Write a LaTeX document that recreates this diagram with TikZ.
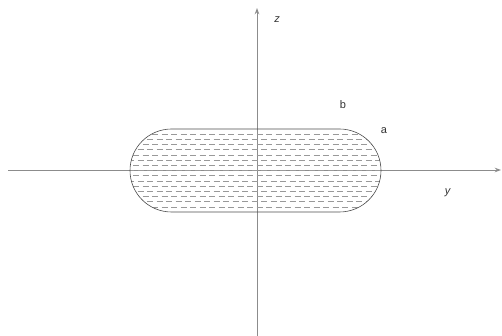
\documentclass[tikz,border=0pt]{standalone}
\usepackage{fontspec}
\setmainfont{Liberation Sans}
\usepackage{tikz}
\usetikzlibrary{arrows.meta}

\begin{document}
\begin{tikzpicture}[
  x=1pt, y=-1pt,
  every node/.style={font=\fontsize{11}{13}\selectfont, text=black!80},
  axis/.style={-{Stealth[length=2.2mm,width=1.6mm]}, black!45, line width=0.9pt},
  hatch/.style={black!40, line width=0.7pt, dash pattern=on 6pt off 3.5pt},
  rim/.style={black!70, line width=0.6pt, rounded corners=41.5pt},
]
\useasboundingbox (0,0) rectangle (502,336);

% axes
\coordinate (ystart) at (8,170);
\coordinate (yend)   at (501,170);
\coordinate (zstart) at (257,336);
\coordinate (zend)   at (257,8);
\draw[axis] (ystart) -- (yend);
\draw[axis] (zstart) -- (zend);

% hatched body
\begin{scope}
  \clip[rounded corners=41.5pt] (130,129) rectangle (381,212);
  \foreach \r in {1,...,15}
    \draw[hatch, dash phase={mod(\r,2)*4.5pt}] (128,129+5.2*\r) -- (384,129+5.2*\r);
\end{scope}
\draw[rim] (130,129) rectangle (381,212);

% labels
\node (zlabel) at (277,20)  {\textit{z}};
\node (ylabel) at (448,193) {\textit{y}};
\node (blabel) at (343,105) {b};
\node (alabel) at (384,131) {a};
\end{tikzpicture}
\end{document}
